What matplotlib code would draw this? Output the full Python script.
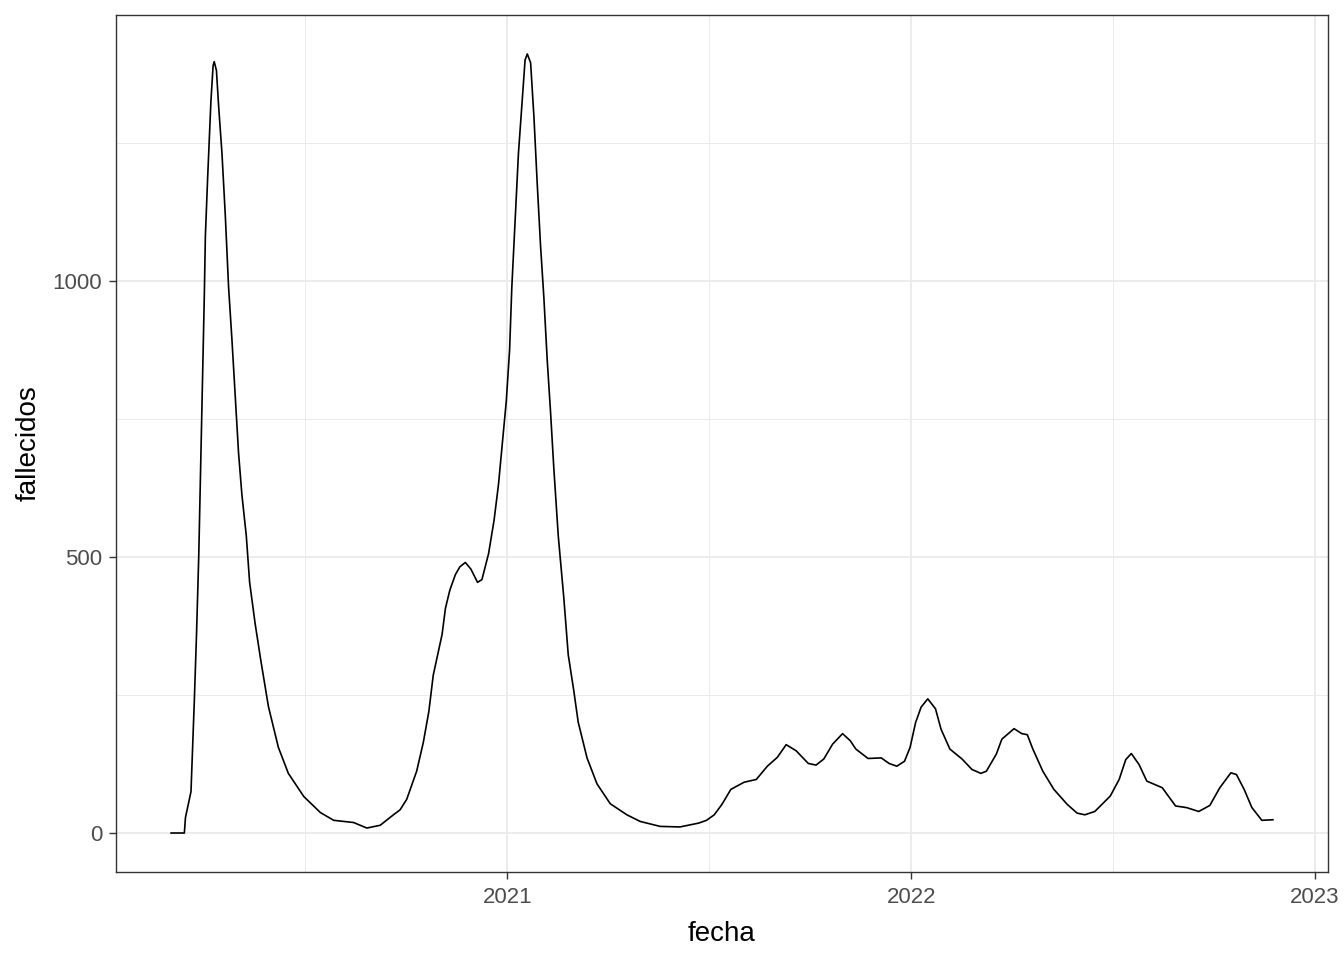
import numpy as np
import pandas as pd
import matplotlib
matplotlib.use("Agg")
import matplotlib.pyplot as plt
import matplotlib.dates as mdates

plt.rcParams["font.family"] = ["Liberation Sans", "DejaVu Sans"]

# days since 2020-01-01
dias = [62, 74, 75, 80, 83, 85, 87, 89, 90, 92, 93, 95, 98, 100, 101, 103, 105, 108,
        111, 114, 117, 120, 123, 126, 130, 133, 138, 143, 150, 159, 168, 182, 197, 209,
        227, 239, 251, 263, 269, 275, 284, 290, 295, 299, 302, 307, 310, 314, 319, 323,
        328, 333, 339, 343, 349, 354, 358, 361, 365, 368, 370, 373, 376, 380, 382, 384,
        387, 390, 393, 396, 399, 402, 405, 408, 412, 417, 421, 426, 430, 438, 447, 459,
        474, 486, 504, 522, 539, 546, 553, 560, 568, 580, 591, 601, 610, 618, 627, 638,
        645, 652, 660, 669, 676, 681, 692, 704, 711, 718, 725, 730, 735, 740, 746, 753,
        758, 766, 777, 786, 794, 799, 808, 813, 824, 831, 836, 841, 850, 860, 872, 881,
        888, 897, 911, 919, 925, 930, 937, 944, 958, 970, 980, 991, 1001, 1010, 1020,
        1025, 1032, 1039, 1048, 1058]
fallecidos = [0, 0, 28, 75, 239, 360, 501, 688, 782, 969, 1081, 1184, 1325, 1390, 1397,
              1381, 1316, 1231, 1119, 988, 894, 791, 688, 613, 538, 454, 379, 314, 229,
              155, 108, 66, 37, 23, 19, 9, 14, 33, 42, 61, 112, 164, 220, 286, 314, 360,
              407, 440, 468, 482, 490, 478, 454, 459, 506, 567, 632, 697, 782, 875, 988,
              1110, 1231, 1344, 1400, 1411, 1395, 1297, 1175, 1063, 969, 857, 763, 660,
              538, 426, 323, 258, 201, 136, 89, 53, 33, 21, 12, 11, 18, 23, 33, 52, 79,
              92, 97, 121, 137, 160, 149, 126, 123, 134, 161, 180, 167, 152, 135, 136,
              126, 121, 130, 155, 200, 228, 243, 225, 188, 152, 134, 115, 108, 112, 143,
              170, 189, 180, 178, 152, 112, 79, 52, 36, 33, 39, 67, 97, 133, 144, 124, 94,
              82, 49, 46, 39, 50, 82, 109, 106, 79, 46, 23, 24]

fecha = pd.Timestamp("2020-01-01") + pd.to_timedelta(dias, unit="D")

fig = plt.figure(figsize=(13.44, 9.6), dpi=100)
ax = fig.add_axes([0.0863, 0.0917, 0.9018, 0.8927])

ax.plot(fecha, fallecidos, color="black", lw=1.2, zorder=3)

# ggplot-like expansion of 5 %
x0 = min(fecha); x1 = max(fecha)
span = x1 - x0
ax.set_xlim(x0 - span * 0.05, x1 + span * 0.05)
ymax = max(fallecidos)
ax.set_ylim(-ymax * 0.05, ymax * 1.05)

ax.set_xticks(pd.to_datetime(["2021-01-01", "2022-01-01", "2023-01-01"]))
ax.xaxis.set_major_formatter(mdates.DateFormatter("%Y"))
ax.set_xticks(pd.to_datetime(["2020-07-02", "2021-07-02", "2022-07-02"]), minor=True)
ax.set_yticks([0, 500, 1000])
ax.set_yticks([250, 750, 1250], minor=True)

ax.grid(True, which="major", color="#EBEBEB", lw=1.3, zorder=0)
ax.grid(True, which="minor", color="#EBEBEB", lw=0.7, zorder=0)
ax.set_axisbelow(True)

for s in ax.spines.values():
    s.set_color("#333333")
    s.set_linewidth(1.0)

ax.tick_params(which="major", length=5, width=1.0, color="#333333",
               labelsize=16, labelcolor="#4D4D4D")
ax.tick_params(axis="x", which="major", pad=6)
ax.tick_params(axis="y", which="major", pad=5)
ax.tick_params(which="minor", length=0)

ax.set_xlabel("fecha", fontsize=20, color="black", labelpad=9)
ax.set_ylabel("fallecidos", fontsize=20, color="black", labelpad=8)

fig.savefig("out.png", dpi=100)
